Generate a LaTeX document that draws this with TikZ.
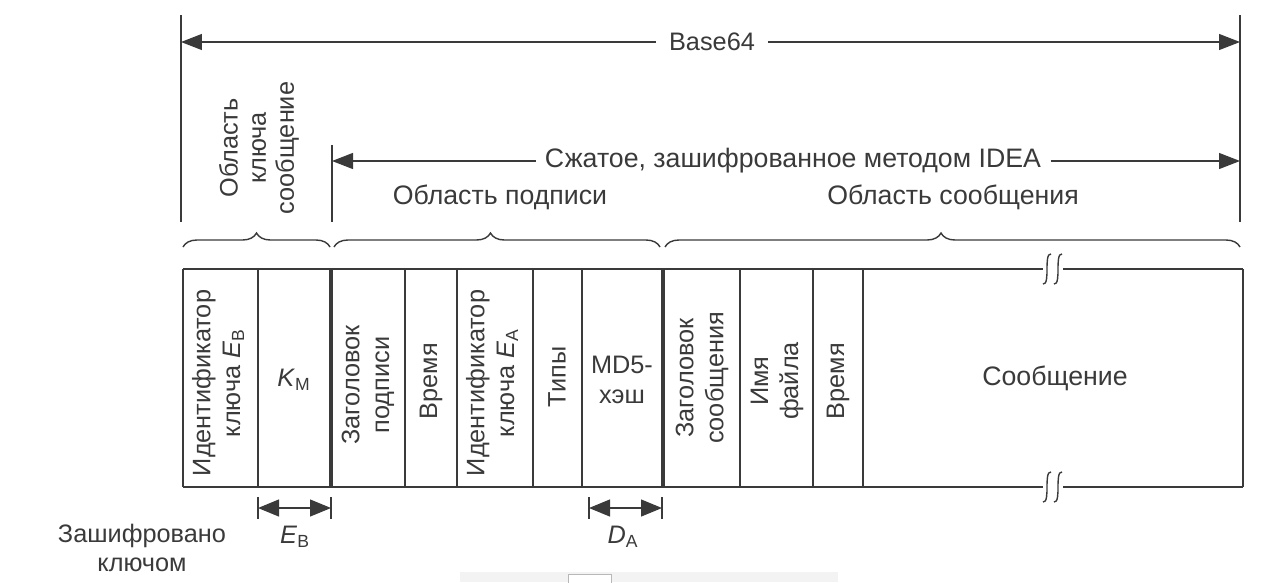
\documentclass[tikz,border=0pt]{standalone}
\usepackage{fontspec}
\setmainfont{Liberation Sans}
\usetikzlibrary{arrows.meta,decorations.pathreplacing}
\definecolor{ink}{HTML}{3a3a3a}
\definecolor{bar}{HTML}{f3f3f3}
\definecolor{barline}{HTML}{b8b8b8}

\begin{document}
\begin{tikzpicture}[x=0.02cm,y=-0.02cm,ink,line width=0.8pt,
    font=\fontsize{14.4}{17}\selectfont,
    tip/.style={line width=0.7pt,-{Triangle[length=0.42cm,width=0.32cm]}},
    span/.style={line width=0.7pt,{Triangle[length=0.42cm,width=0.34cm]}-{Triangle[length=0.42cm,width=0.34cm]}},
    gap/.style={fill=white,inner xsep=7pt,inner ysep=2pt},
    wide/.style={font=\fontsize{15.2}{18}\selectfont},
    cell/.style={rotate=90,align=center},
    curly/.style={decorate,decoration={brace,amplitude=0.28cm}},
    thick sep/.style={line width=2.4pt}]
    \useasboundingbox (0,0) rectangle (1280,582);

    \draw (181,15) -- (181,222);
    \draw (1240,15) -- (1240,222);
    \draw (332,145) -- (332,222);

    \coordinate (b64l) at (181,42);
    \coordinate (b64r) at (1240,42);
    \node[gap] (b64) at (712,42) {Base64};
    \draw[tip] (b64) -- (b64l);
    \draw[tip] (b64) -- (b64r);

    \coordinate (idl) at (332,161);
    \coordinate (idr) at (1240,161);
    \node[gap,wide,inner xsep=5pt] (idea) at (793,161) {Сжатое, зашифрованное методом IDEA};
    \draw[tip] (idea) -- (idl);
    \draw[tip] (idea) -- (idr);

    \node[cell,font=\fontsize{14.4}{16}\selectfont] (keyarea) at (259,148) {Область\\ключа\\сообщение};
    \node[wide] (sigarea) at (500,197) {Область подписи};
    \node[wide] (msgarea) at (953,197) {Область сообщения};

    \draw[curly] (183,247) -- (330,247);
    \draw[curly,decoration={aspect=0.48}] (334,247) -- (660,247);
    \draw[curly,decoration={aspect=0.48}] (665,247) -- (1240,247);

    \draw (183,269) -- (183,487);
    \draw (1243,269) -- (1243,487);
    \draw (183,269) -- (1043,269) (1063,269) -- (1243,269);
    \draw (183,487) -- (1043,487) (1063,487) -- (1243,487);
    \foreach \y in {269,487}
      \foreach \x in {1047,1058}
        \draw (\x+4,\y-15) .. controls (\x,\y-16) and (\x,\y-6) .. (\x,\y)
                           .. controls (\x,\y+6) and (\x,\y+16) .. (\x-4,\y+15);
    \foreach \x in {258,405,457,533,582,740,813,863}
      \draw (\x,269) -- (\x,487);
    \foreach \x in {331,663}
      \draw[thick sep] (\x,269) -- (\x,487);

    \node[cell] (ideb) at (218,383) {Идентификатор\\ключа \textit{E}\textsubscript{В}};
    \node (km) at (294,380) {\textit{K}\textsubscript{М}};
    \node[cell] (sighead) at (368,385) {Заголовок\\подписи};
    \node[cell] (sigtime) at (431,381) {Время};
    \node[cell] (idea2) at (492,383) {Идентификатор\\ключа \textit{E}\textsubscript{А}};
    \node[cell] (types) at (557,377) {Типы};
    \node[align=center] (md5) at (622,380) {MD5-\\хэш};
    \node[cell] (msghead) at (702,378) {Заголовок\\сообщения};
    \node[cell] (fname) at (777,381) {Имя\\файла};
    \node[cell] (msgtime) at (838,381) {Время};
    \node[wide] (msg) at (1055,378) {Сообщение};

    \coordinate (ebl) at (258,508);
    \coordinate (ebr) at (331,508);
    \coordinate (dal) at (589,508);
    \coordinate (dar) at (662,508);
    \draw (258,497) -- (258,519) (331,497) -- (331,519);
    \draw (589,497) -- (589,519) (662,497) -- (662,519);
    \draw[span] (ebl) -- (ebr);
    \draw[span] (dal) -- (dar);
    \node (eb) at (295,537) {\textit{E}\textsubscript{В}};
    \node (da) at (623,537) {\textit{D}\textsubscript{А}};
    \node[align=center] (enc) at (142,548) {Зашифровано\\ключом};

    \fill[bar] (460,572) rectangle (838,582);
    \draw[barline,fill=white,line width=0.5pt] (568,574) rectangle (611,583);
\end{tikzpicture}
\end{document}
